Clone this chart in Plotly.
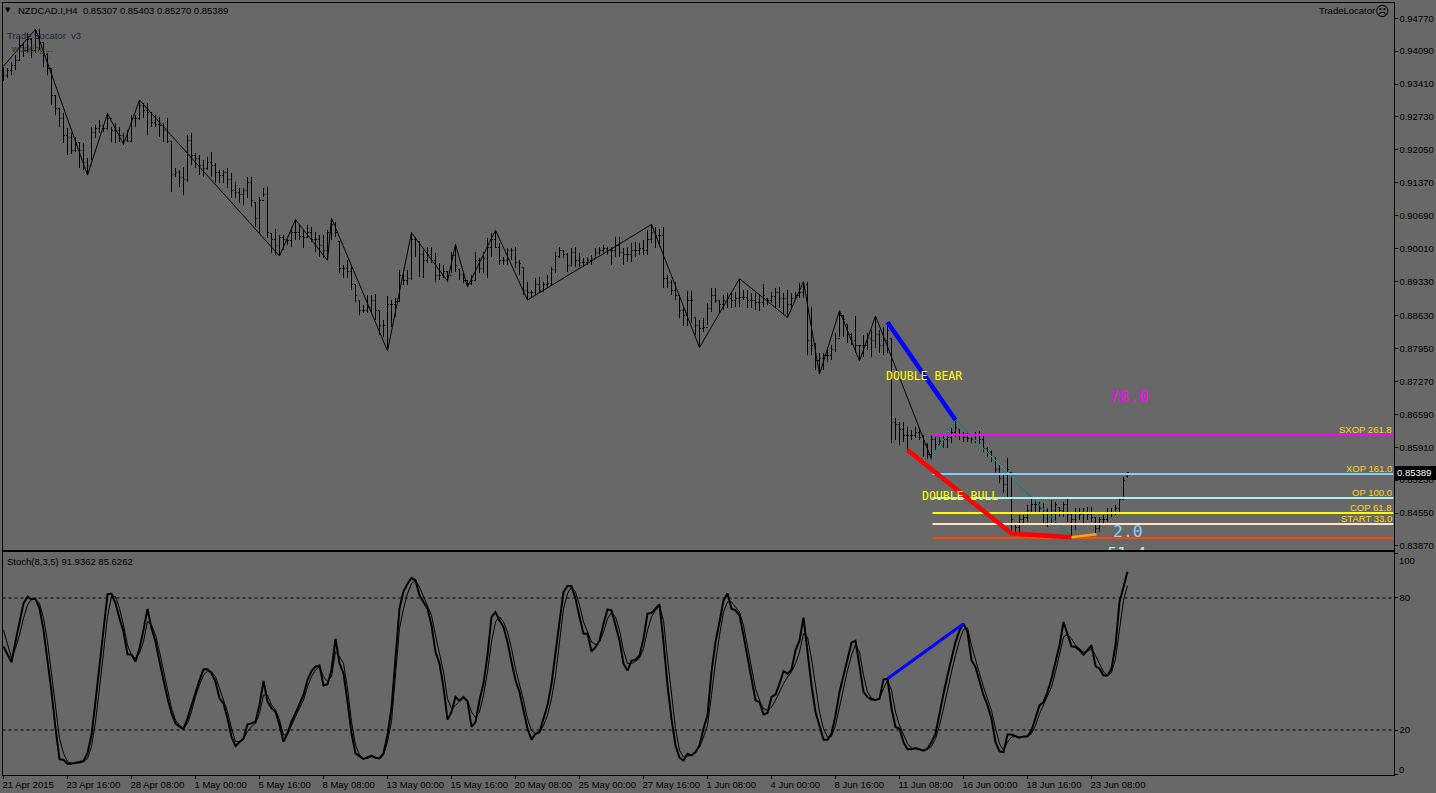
import plotly.graph_objects as go

W, H = 1436, 793
BG = "#686868"
TXT = "#000000"
FONT = "Liberation Sans"
MONO = "DejaVu Sans Mono"
FS = 9.5

highs = [.9376,.9374,.9386,.9401,.9438,.9427,.9446,.9436,.9454,.9454,.9425,.9405,.9374,.9318,.9291,.9281,.9250,.9239,.9231,.9219,
.9219,.9188,.9252,.9256,.9266,.9256,.9281,.9252,.9260,.9252,.9239,.9246,.9277,.9277,.9308,.9301,.9301,.9283,.9277,.9272,
.9260,.9270,.9221,.9167,.9163,.9169,.9235,.9239,.9198,.9194,.9184,.9190,.9200,.9178,.9163,.9163,.9167,.9157,.9138,.9126,
.9126,.9149,.9149,.9097,.9107,.9126,.9128,.9033,.9041,.9029,.9029,.9019,.9046,.9060,.9050,.9039,.9050,.9046,.9035,.9029,
.9029,.9039,.9064,.9056,.9015,.8967,.8977,.8967,.8926,.8895,.8885,.8905,.8905,.8907,.8874,.8854,.8903,.8895,.8899,.8957,
.8957,.8957,.9035,.9025,.9015,.8998,.9004,.9004,.8992,.8971,.8967,.8953,.8994,.9010,.8957,.8950,.8936,.8946,.8994,.8981,
.8994,.9023,.9033,.9039,.9012,.8984,.9002,.9002,.9004,.8977,.8963,.8932,.8915,.8940,.8942,.8932,.8946,.8963,.8994,.9004,
.8998,.8992,.9002,.9004,.8992,.8981,.8984,.8988,.9002,.9004,.9008,.9004,.9004,.9025,.9025,.9002,.9004,.9012,.9015,.9012,
.9019,.9039,.9052,.9046,.9041,.9046,.8946,.8936,.8932,.8905,.8880,.8913,.8913,.8858,.8854,.8858,.8889,.8919,.8919,.8895,
.8905,.8909,.8911,.8911,.8938,.8915,.8915,.8909,.8909,.8907,.8928,.8899,.8911,.8919,.8922,.8909,.8915,.8909,.8911,.8930,
.8932,.8932,.8880,.8806,.8785,.8785,.8792,.8802,.8827,.8872,.8864,.8845,.8827,.8862,.8802,.8823,.8827,.8833,.8862,.8833,
.8839,.8850,.8816,.8651,.8643,.8643,.8633,.8627,.8633,.8631,.8616,.8600,.8616,.8612,.8612,.8616,.8622,.8631,.8647,.8627,
.8622,.8622,.8616,.8622,.8624,.8616,.8591,.8585,.8571,.8554,.8538,.8569,.8538,.8434,.8451,.8451,.8472,.8488,.8482,.8478,
.8476,.8465,.8482,.8478,.8467,.8478,.8484,.8451,.8465,.8465,.8465,.8467,.8467,.8447,.8447,.8451,.8465,.8465,.8472,.8484,
.8530,.85403]
lows = [.9347,.9353,.9359,.9370,.9390,.9396,.9405,.9394,.9405,.9411,.9376,.9359,.9297,.9277,.9252,.9219,.9194,.9196,.9200,.9167,
.9163,.9153,.9184,.9229,.9239,.9242,.9246,.9221,.9219,.9221,.9215,.9221,.9221,.9252,.9266,.9270,.9235,.9252,.9252,.9231,
.9221,.9219,.9118,.9149,.9128,.9112,.9138,.9173,.9167,.9153,.9149,.9163,.9149,.9136,.9136,.9136,.9126,.9105,.9105,.9095,
.9091,.9105,.9087,.9046,.9033,.9107,.9023,.8992,.8988,.8988,.8998,.9008,.9004,.9019,.9019,.9002,.9023,.9015,.8994,.8984,
.8982,.8977,.9019,.9025,.8950,.8940,.8940,.8915,.8891,.8864,.8868,.8868,.8868,.8854,.8823,.8818,.8790,.8839,.8860,.8891,
.8926,.8926,.8936,.8984,.8942,.8940,.8971,.8971,.8932,.8936,.8940,.8932,.8950,.8953,.8936,.8930,.8922,.8926,.8936,.8950,
.8950,.8940,.8984,.9002,.8967,.8967,.8967,.8977,.8961,.8946,.8905,.8895,.8899,.8905,.8909,.8911,.8919,.8926,.8950,.8981,
.8981,.8953,.8963,.8963,.8963,.8963,.8967,.8967,.8981,.8988,.8992,.8988,.8967,.8984,.8984,.8967,.8973,.8973,.8984,.8988,
.8988,.8988,.9012,.9002,.9004,.8920,.8920,.8905,.8895,.8858,.8841,.8841,.8847,.8823,.8798,.8829,.8843,.8870,.8889,.8868,
.8874,.8878,.8878,.8880,.8880,.8895,.8878,.8878,.8874,.8872,.8880,.8885,.8889,.8878,.8878,.8864,.8860,.8880,.8895,.8899,
.8899,.8781,.8781,.8750,.8742,.8750,.8767,.8771,.8787,.8818,.8818,.8806,.8802,.8785,.8769,.8777,.8792,.8777,.8796,.8785,
.8781,.8785,.8600,.8606,.8596,.8602,.8585,.8606,.8610,.8606,.8571,.8567,.8567,.8585,.8591,.8589,.8589,.8600,.8612,.8606,
.8602,.8602,.8600,.8600,.8598,.8581,.8571,.8560,.8538,.8517,.8496,.8488,.8416,.8414,.8414,.8434,.8437,.8457,.8457,.8455,
.8434,.8426,.8434,.8434,.8447,.8447,.8437,.8406,.8420,.8441,.8434,.8441,.8437,.8414,.8416,.8434,.8437,.8447,.8451,.8455,
.8482,.85270]
closes = [.9359,.9370,.9380,.9390,.9421,.9411,.9432,.9411,.9442,.9427,.9401,.9374,.9318,.9291,.9270,.9235,.9231,.9204,.9221,.9204,
.9178,.9173,.9241,.9250,.9256,.9250,.9270,.9246,.9246,.9235,.9225,.9223,.9270,.9270,.9297,.9287,.9283,.9262,.9258,.9256,
.9246,.9223,.9155,.9159,.9147,.9143,.9225,.9194,.9188,.9173,.9167,.9178,.9173,.9159,.9153,.9159,.9143,.9122,.9116,.9112,
.9122,.9138,.9101,.9064,.9101,.9112,.9035,.9019,.9008,.9025,.9019,.9017,.9035,.9035,.9027,.9025,.9035,.9019,.9019,.9008,
.8998,.9035,.9050,.9035,.8961,.8961,.8953,.8926,.8905,.8874,.8874,.8880,.8895,.8874,.8843,.8843,.8885,.8885,.8891,.8946,
.8936,.8940,.9019,.9019,.8988,.8977,.8988,.8977,.8946,.8946,.8953,.8946,.8986,.8967,.8948,.8936,.8930,.8936,.8977,.8961,
.8981,.9004,.9019,.9004,.8977,.8977,.8998,.8998,.8973,.8971,.8915,.8911,.8911,.8926,.8915,.8926,.8930,.8957,.8984,.8998,
.8988,.8967,.8994,.8977,.8973,.8973,.8977,.8981,.8994,.8998,.9002,.8998,.8998,.9008,.8994,.8988,.8988,.8998,.8998,.9002,
.8998,.9019,.9035,.9029,.9029,.8940,.8932,.8915,.8905,.8874,.8864,.8895,.8895,.8843,.8837,.8839,.8878,.8905,.8895,.8885,
.8895,.8899,.8895,.8899,.8901,.8901,.8895,.8895,.8889,.8889,.8905,.8895,.8903,.8911,.8899,.8899,.8885,.8899,.8905,.8911,
.8926,.8812,.8802,.8771,.8775,.8781,.8781,.8792,.8816,.8864,.8854,.8823,.8812,.8802,.8802,.8802,.8816,.8812,.8823,.8802,
.8812,.8833,.8643,.8637,.8627,.8616,.8616,.8616,.8622,.8612,.8596,.8575,.8606,.8596,.8602,.8606,.8612,.8622,.8631,.8616,
.8612,.8610,.8606,.8618,.8606,.8589,.8581,.8569,.8544,.8527,.8513,.8544,.8441,.8426,.8441,.8445,.8461,.8472,.8472,.8465,
.8461,.8457,.8461,.8472,.8461,.8472,.8451,.8441,.8457,.8451,.8457,.8451,.8445,.8424,.8441,.8441,.8457,.8457,.8465,.8482,
.8523,.85389]
opens = [.9365,.9359,.9370,.9380,.9390,.9421,.9411,.9432,.9411,.9442,.9427,.9401,.9374,.9318,.9291,.9270,.9235,.9231,.9204,.9221,
.9204,.9178,.9173,.9241,.9250,.9256,.9250,.9270,.9246,.9246,.9235,.9225,.9223,.9270,.9270,.9297,.9287,.9283,.9262,.9258,
.9256,.9246,.9223,.9155,.9159,.9147,.9143,.9225,.9194,.9188,.9173,.9167,.9178,.9173,.9159,.9153,.9159,.9143,.9122,.9116,
.9112,.9122,.9138,.9097,.9064,.9101,.9112,.9033,.9019,.9008,.9025,.9019,.9017,.9035,.9035,.9027,.9025,.9035,.9019,.9019,
.9008,.8998,.9035,.9050,.9015,.8961,.8961,.8953,.8926,.8895,.8874,.8874,.8880,.8895,.8874,.8843,.8843,.8885,.8885,.8891,
.8946,.8936,.8940,.9019,.9015,.8988,.8977,.8988,.8977,.8946,.8946,.8953,.8946,.8986,.8957,.8948,.8936,.8930,.8936,.8977,
.8961,.8981,.9004,.9019,.9004,.8977,.8977,.8998,.8998,.8973,.8963,.8915,.8911,.8911,.8926,.8915,.8926,.8930,.8957,.8984,
.8998,.8988,.8967,.8994,.8977,.8973,.8973,.8977,.8981,.8994,.8998,.9002,.8998,.8998,.9008,.8994,.8988,.8988,.8998,.8998,
.9002,.8998,.9019,.9035,.9029,.9029,.8940,.8932,.8915,.8905,.8874,.8864,.8895,.8858,.8843,.8837,.8839,.8878,.8905,.8895,
.8885,.8895,.8899,.8895,.8899,.8901,.8901,.8895,.8895,.8889,.8889,.8899,.8895,.8903,.8911,.8899,.8899,.8885,.8899,.8905,
.8911,.8926,.8812,.8802,.8771,.8775,.8781,.8781,.8792,.8816,.8864,.8845,.8823,.8812,.8802,.8802,.8802,.8816,.8812,.8823,
.8802,.8812,.8816,.8643,.8637,.8627,.8616,.8616,.8616,.8622,.8612,.8596,.8575,.8606,.8596,.8602,.8606,.8612,.8622,.8627,
.8616,.8612,.8610,.8606,.8618,.8606,.8589,.8581,.8569,.8544,.8527,.8513,.8538,.8434,.8426,.8441,.8445,.8461,.8472,.8472,
.8465,.8461,.8457,.8461,.8467,.8461,.8472,.8451,.8441,.8457,.8451,.8457,.8451,.8445,.8424,.8441,.8441,.8457,.8457,.8465,
.8482,.85307]

stoch_k = [57.9,54.1,50.8,60.2,69.3,77.6,80.6,79.4,79.6,75.3,65.5,51.8,37.4,20.8,6.8,6.4,4.7,4.7,5.0,5.3,
5.9,9.4,17.7,32.9,49.6,65.5,81.7,82.0,77.6,70.8,64.7,54.4,54.3,51.1,57.1,65.5,75.0,66.2,60.2,51.1,
42.0,34.4,27.6,23.0,21.5,20.5,25.3,31.4,37.4,42.7,47.6,47.6,45.8,42.0,34.4,32.1,25.3,17.0,12.7,14.7,
16.2,22.6,23.0,23.8,31.4,42.3,32.9,29.9,28.3,22.3,14.7,18.5,23.8,27.6,31.4,35.9,42.7,46.8,48.8,49.3,
40.2,40.8,47.3,61.4,50.3,45.8,32.9,18.5,9.4,7.9,6.8,7.7,8.3,7.4,7.1,9.4,17.7,29.9,54.1,75.3,
83.0,86.5,89.1,88.0,81.2,78.2,75.1,67.6,55.4,50.2,39.5,24.7,28.2,35.0,33.2,35.0,33.0,21.4,23.6,33.5,
41.1,53.9,71.4,73.6,69.8,66.8,60.0,50.9,42.6,37.3,28.2,20.6,15.6,18.3,19.1,25.1,31.2,41.1,53.9,69.1,
82.7,85.4,85.4,79.7,71.4,63.8,63.8,55.7,57.7,60.7,68.3,74.8,74.4,67.6,60.7,50.2,47.0,51.4,52.0,53.9,
61.5,72.9,73.2,75.1,77.1,60.0,40.3,25.1,13.0,7.4,6.1,9.2,8.5,10.0,13.0,20.6,26.7,46.4,60.0,69.1,
78.9,82.0,75.1,74.4,72.1,63.0,52.4,43.3,33.5,32.7,27.1,27.7,
35.0,36.1,41.1,46.7,45.6,47.4,56.2,60.7,71.1,55.4,40.3,28.2,21.4,15.6,15.6,18.3,26.7,37.3,44.8,52.4,
59.7,60.6,47.9,37.3,35.0,33.9,33.6,34.2,42.9,43.3,29.7,21.4,20.6,14.5,11.2,11.2,11.8,11.2,10.6,11.5,
14.5,18.3,28.2,36.5,44.8,53.2,60.0,65.3,68.3,64.5,51.7,48.6,42.6,35.8,31.2,25.1,14.5,10.3,10.0,17.9,
17.9,17.1,16.5,17.1,17.1,19.8,25.1,31.2,32.7,37.3,43.3,50.9,58.5,69.1,63.0,58.0,57.7,56.2,54.2,56.2,
58.5,49.1,47.9,44.8,44.8,47.9,58.5,78.2,85.7,91.9]
stoch_d = [65.5,58.6,52.6,57.1,63.2,70.8,76.8,79.4,79.4,77.6,70.8,60.2,45.8,31.4,16.2,9.4,5.6,4.9,4.9,5.0,
5.6,7.1,12.4,23.8,39.0,55.6,71.5,80.6,80.6,75.3,67.7,58.6,54.1,52.6,54.9,60.2,69.3,67.7,63.2,55.6,
46.5,37.4,29.9,24.6,22.0,20.8,23.0,28.3,35.2,40.5,45.0,46.8,46.5,44.3,39.0,33.6,28.3,20.8,14.7,14.7,
15.9,19.3,21.5,23.0,27.6,35.9,35.9,31.4,29.1,24.6,17.7,18.0,22.3,26.1,29.9,33.6,39.7,44.3,47.3,48.8,
44.3,42.0,44.3,55.6,53.3,50.3,39.0,23.8,13.2,8.7,7.1,7.1,7.9,7.6,7.1,8.6,14.7,23.8,43.5,66.2,
75.1,82.0,86.5,88.0,85.0,80.4,76.7,72.1,63.0,55.4,46.4,34.2,29.7,31.2,33.0,34.7,33.5,28.2,25.6,28.2,
35.8,46.4,60.0,69.1,71.4,69.1,64.5,57.0,47.9,41.1,33.5,25.1,19.8,18.3,18.6,22.1,26.7,34.2,44.8,60.0,
75.1,82.0,85.0,82.7,76.7,69.1,64.5,60.0,58.9,60.0,64.5,70.6,73.3,71.4,65.3,56.2,50.2,50.2,51.2,52.7,
57.0,65.3,71.4,74.4,76.4,69.8,52.4,35.8,20.6,10.8,7.7,8.2,8.5,10.0,12.3,16.8,22.1,35.8,50.9,63.0,
73.6,78.2,78.2,75.9,73.6,67.6,58.5,47.9,38.8,33.5,29.7,28.9,
30.4,33.5,37.3,41.1,44.1,46.4,50.2,55.4,63.8,62.3,52.4,39.5,28.2,20.6,16.8,17.1,22.1,30.4,39.5,47.1,
53.9,58.8,55.4,44.8,37.3,34.5,33.8,34.2,38.8,42.6,38.0,28.2,22.1,17.6,13.8,11.8,11.5,11.2,10.8,11.2,
12.6,16.1,22.1,29.7,38.8,46.4,53.9,60.7,65.7,66.4,58.5,51.7,45.6,39.5,34.2,28.9,20.6,13.8,10.8,14.5,
16.8,17.1,16.8,17.1,17.1,18.3,22.1,27.4,31.2,35.0,39.5,46.4,53.9,62.3,63.5,61.5,58.5,57.0,55.4,55.7,
57.0,53.9,50.2,46.4,44.8,46.1,52.4,66.1,78.9,85.6]

bar_index = list(range(282))

# zigzag pivots
zig_idx = [0,8,21,26,30,34,69,73,81,82,96,102,111,113,116,123,131,162,174,184,196,200,204,209,214,218,232,238,267]
zig_px  = [.9378,.9454,.9153,.9280,.9217,.9308,.8986,.9061,.8977,.9064,.8790,.9034,.8934,.9010,.8922,.9039,.8895,.9051,.8797,.8939,.8859,.8933,.8742,.8873,.8769,.8862,.8566,.8647,.8405]
cyan_idx = [232,238,267]
cyan_px = [.8566,.8647,.8405]
bear_idx = [221,238]
bear_px = [.8849,.8647]
bull_idx = [226,252,267]
bull_px = [.8585,.8413,.8405]
orange_idx = [267,273.25]
orange_px = [.8405,.8411]
stoch_bear_idx = [221,240]
stoch_bear_val = [43.3,68.3]

level_names = ["SXOP 261.8","XOP 161.0","OP 100.0","COP 61.8","START 33.0"]
level_prices = [.86161,.85356,.84861,.84551,.84324,.84035]
level_colors = ["#ff00ff","#87cefa","#afeeee","#ffff00","#ffe4c4","#ff4500"]
level_label_prices = [.8627,.8546,.8497,.8466,.8443]
level_start = 232.25

price_ticks = [.9477,.9409,.9341,.9273,.9205,.9137,.9069,.9001,.8933,.8863,.8795,.8727,.8659,.8591,.8523,.8455,.8387]
price_labels = ["0.94770","0.94090","0.93410","0.92730","0.92050","0.91370","0.90690","0.90010","0.89330","0.88630","0.87950","0.87270","0.86590","0.85910","0.85230","0.84550","0.83870"]
date_ticks = list(range(0,282,16))
date_labels = ["21 Apr 2015","23 Apr 16:00","28 Apr 08:00","1 May 00:00","5 May 16:00","8 May 08:00","13 May 00:00","15 May 16:00","20 May 08:00","25 May 00:00","27 May 16:00","1 Jun 08:00","4 Jun 00:00","8 Jun 16:00","11 Jun 08:00","16 Jun 00:00","18 Jun 16:00","23 Jun 08:00"]

X0, X1 = -0.25, 347.5
fig = go.Figure()

fig.add_trace(go.Ohlc(x=bar_index, open=opens, high=highs, low=lows, close=closes, xaxis="x", yaxis="y",
    increasing=dict(line=dict(color="#000000", width=1)), decreasing=dict(line=dict(color="#000000", width=1)),
    tickwidth=0.3, hoverinfo="skip"))

def line(x, y, color, width, xa="x", ya="y", dash=None):
    fig.add_trace(go.Scatter(x=x, y=y, mode="lines", xaxis=xa, yaxis=ya, hoverinfo="skip",
                             line=dict(color=color, width=width, dash=dash)))

line(zig_idx, zig_px, "#000000", 1)
line(cyan_idx, cyan_px, "#20b8bc", 1)
for p, c in zip(level_prices, level_colors):
    line([level_start, X1], [p, p], c, 2)
line(bear_idx, bear_px, "#0000ff", 4.5)
line(bull_idx, bull_px, "#ff0000", 4.5)
line(orange_idx, orange_px, "#ffa500", 2.5)

# clipped floating value under the pattern
fig.add_trace(go.Scatter(x=[276], y=[.8368], mode="text", text=["51.4"], textposition="middle right",
    textfont=dict(family=MONO, size=16, color="#afeeee"), xaxis="x", yaxis="y", cliponaxis=True, hoverinfo="skip"))

# stochastic panel
line([X0, X1], [80, 80], "#000000", 1, "x2", "y2", "3px,3px")
line([X0, X1], [20, 20], "#000000", 1, "x2", "y2", "3px,3px")
line(bar_index, stoch_d, "#000000", 1, "x2", "y2")
line(bar_index, stoch_k, "#000000", 2, "x2", "y2")
line(stoch_bear_idx, stoch_bear_val, "#0000ff", 3, "x2", "y2")

def px(x): return x / W
def py(y): return 1 - y / H

ann = []
def paper_text(x, y, s, color=TXT, size=FS, anchor="left", family=FONT):
    ann.append(dict(x=px(x), y=py(y), xref="paper", yref="paper", text=s, showarrow=False, xanchor=anchor,
                    yanchor="middle", font=dict(family=family, size=size, color=color), borderpad=0, borderwidth=0))
def data_text(x, y, s, color, size, family=MONO, anchor="left"):
    ann.append(dict(x=x, y=y, xref="x", yref="y", text=s, showarrow=False, xanchor=anchor, yanchor="middle",
                    font=dict(family=family, size=size, color=color), borderpad=0, borderwidth=0))

paper_text(5, 10, "▼", size=7, family="DejaVu Sans")
paper_text(18, 10, "NZDCAD.I,H4&nbsp;&nbsp;0.85307 0.85403 0.85270 0.85389")
paper_text(7, 35, "Trade Locator&nbsp;&nbsp;v3", color="#16263c")
paper_text(11, 48, "working...", color="#3c2c1c")
paper_text(1375, 11, "TradeLocator", anchor="right")
paper_text(1382, 11, "☹", size=14, anchor="center", family="DejaVu Sans")
paper_text(7, 561, "Stoch(8,3,5) 91.9362 85.6262")
paper_text(1399, 560, "100")
paper_text(1399, 769, "0")
paper_text(1397, 473, "0.85389", color="#ffffff")

data_text(220.5, .8738, "DOUBLE BEAR", "#ffff00", 11.5)
data_text(229.5, .8490, "DOUBLE BULL", "#ffff00", 11.5)
data_text(276.25, .8695, "78.0", "#ff00ff", 16.5)
data_text(277.25, .8416, "2.0", "#87cefa", 16.5)
for s, p in zip(level_names, level_label_prices):
    data_text(347, p, s, "#ffd21e", FS, family=FONT, anchor="right")

shapes = [
    dict(type="rect", xref="paper", yref="paper", x0=px(1395), x1=px(1436), y0=py(480), y1=py(466),
         fillcolor="#000000", line=dict(width=0), layer="above"),
    dict(type="line", xref="paper", yref="paper", x0=px(1393.5), x1=px(1393.5), y0=py(550), y1=py(552),
         line=dict(color="#000000", width=1), layer="above"),
]

axis_common = dict(showgrid=False, zeroline=False, showline=True, mirror=True, linecolor="#000000", linewidth=1)
fig.update_layout(
    width=W, height=H, autosize=False, showlegend=False,
    margin=dict(l=0, r=0, t=0, b=0), paper_bgcolor=BG, plot_bgcolor=BG,
    font=dict(family=FONT, size=FS, color=TXT),
    xaxis=dict(domain=[px(2.5), px(1393.5)], range=[X0, X1], anchor="y", showticklabels=False, ticks="",
               rangeslider=dict(visible=False), **axis_common),
    yaxis=dict(domain=[py(550), py(2.5)], range=[.83787, .95094], anchor="x", side="right",
               tickmode="array", tickvals=price_ticks, ticktext=price_labels, ticks="outside", ticklen=3,
               tickcolor="#000000", tickfont=dict(family=FONT, size=FS, color=TXT), **axis_common),
    xaxis2=dict(domain=[px(2.5), px(1393.5)], range=[X0, X1], anchor="y2", tickmode="array", tickvals=date_ticks,
                ticktext=date_labels, ticks="outside", ticklen=3, tickcolor="#000000",
                ticklabelposition="outside right", tickangle=0, ticklabelshift=-2, ticklabelstandoff=1,
                tickfont=dict(family=FONT, size=FS, color=TXT), **axis_common),
    yaxis2=dict(domain=[py(775), py(552)], range=[-0.45, 100.9], anchor="x2", side="right",
                tickmode="array", tickvals=[100,80,20,0], ticktext=["","80","20",""], ticks="outside", ticklen=3,
                tickcolor="#000000", tickfont=dict(family=FONT, size=FS, color=TXT), **axis_common),
    annotations=ann, shapes=shapes,
)
post = """
document.documentElement.style.margin='0';
document.body.style.margin='0';
document.body.style.overflow='hidden';
document.querySelectorAll('.ohlc path').forEach(function(p){p.style.shapeRendering='crispEdges';});
"""
fig.write_html("out.html", post_script=post, config=dict(displayModeBar=False, responsive=False))
